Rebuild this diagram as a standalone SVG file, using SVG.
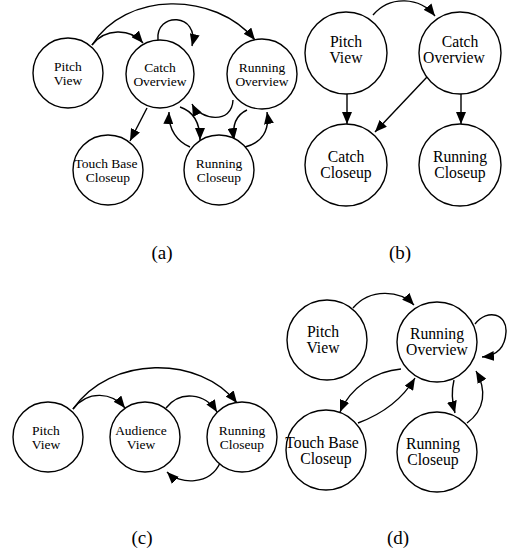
<svg xmlns="http://www.w3.org/2000/svg" width="507" height="552" viewBox="0 0 507 552">
<defs>
<marker id="ah" markerUnits="userSpaceOnUse" markerWidth="12" markerHeight="10" viewBox="0 0 12 10" refX="12" refY="5" orient="auto">
<path d="M0,0 L12,5 L0,10 z" fill="#000"/>
</marker>
</defs>
<style>
circle{fill:#fff;stroke:#000;stroke-width:1.4}
text{font-family:"Liberation Serif","Times New Roman",serif;fill:#000;text-anchor:middle}
.s{font-size:13.5px}
.b{font-size:15.7px}
.lab{font-size:19px}
#edges path{fill:none;stroke:#000;stroke-width:1.4;marker-end:url(#ah)}
</style>
<rect width="507" height="552" fill="#fff"/>
<g id="edges">
<!-- (a) -->
<path d="M92,45 C105,28 130,28 143,43"/>
<path d="M92,45 C125,-9 215,-9 255,40"/>
<path d="M158,40 C155,12 200,12 192,46"/>
<path d="M233,100 C232,125 200,120 192,104"/>
<path d="M180,107 C195,112 200,125 200,140"/>
<path d="M190,147 C178,142 168,130 169,112"/>
<path d="M147,108 L130,141"/>
<path d="M247,110 C236,115 232,125 234,140"/>
<path d="M245,147 C262,143 270,130 267,112"/>
<!-- (b) -->
<path d="M373,15 C390,-5 420,-3 435,16"/>
<path d="M347,94 L347,124"/>
<path d="M461,94 L461,124"/>
<path d="M427,77 L375,132"/>
<!-- (c) -->
<path d="M73,409 C88,390 112,392 125,408"/>
<path d="M73,409 C110,355 200,355 237,403"/>
<path d="M166,408 C180,390 205,393 217,412"/>
<path d="M220,463 C210,485 180,485 167,472"/>
<!-- (d) -->
<path d="M353,308 C370,288 400,290 414,305"/>
<path d="M475,324 C488,308 507,314 506,332 C505,350 494,356 482,357"/>
<path d="M401,369 C375,371 350,388 340,412"/>
<path d="M358,423 C385,413 403,398 415,378"/>
<path d="M454,380 C451,392 452,402 455,413"/>
<path d="M467,423 C485,410 487,390 476,371"/>
</g>
<!-- panel (a) -->
<g id="a_pitch"><circle cx="68" cy="73" r="35"/><text class="s" x="68" y="71">Pitch</text><text class="s" x="68" y="84.5">View</text></g>
<g id="a_catchov"><circle cx="160" cy="74" r="34"/><text class="s" x="160" y="72">Catch</text><text class="s" x="160" y="85.5">Overview</text></g>
<g id="a_runov"><circle cx="262" cy="74" r="35"/><text class="s" x="262" y="72">Running</text><text class="s" x="262" y="85.5">Overview</text></g>
<g id="a_touch"><circle cx="108" cy="170" r="35"/><text class="s" x="106" y="168">Touch Base</text><text class="s" x="108" y="181.5">Closeup</text></g>
<g id="a_runcl"><circle cx="219" cy="170" r="35"/><text class="s" x="219" y="168">Running</text><text class="s" x="219" y="181.5">Closeup</text></g>
<!-- panel (b) -->
<g id="b_pitch"><circle cx="346" cy="53" r="41"/><text class="b" x="346" y="47">Pitch</text><text class="b" x="346" y="63">View</text></g>
<g id="b_catchov"><circle cx="460" cy="53" r="41"/><text class="b" x="460" y="47">Catch</text><text class="b" x="454" y="63">Overview</text></g>
<g id="b_catchcl"><circle cx="346" cy="165" r="41"/><text class="b" x="346" y="162">Catch</text><text class="b" x="346" y="178">Closeup</text></g>
<g id="b_runcl"><circle cx="460" cy="165" r="41"/><text class="b" x="460" y="162">Running</text><text class="b" x="460" y="178">Closeup</text></g>
<!-- panel (c) -->
<g id="c_pitch"><circle cx="48" cy="437" r="35"/><text class="s" x="46" y="435">Pitch</text><text class="s" x="46" y="448.5">View</text></g>
<g id="c_aud"><circle cx="145" cy="437" r="35"/><text class="s" x="141" y="435">Audience</text><text class="s" x="141" y="448.5">View</text></g>
<g id="c_runcl"><circle cx="242" cy="437" r="35"/><text class="s" x="242" y="435">Running</text><text class="s" x="242" y="448.5">Closeup</text></g>
<!-- panel (d) -->
<g id="d_pitch"><circle cx="327" cy="340" r="40"/><text class="b" x="323" y="337">Pitch</text><text class="b" x="323" y="353">View</text></g>
<g id="d_runov"><circle cx="437" cy="342" r="40"/><text class="b" x="437" y="339">Running</text><text class="b" x="437" y="355">Overview</text></g>
<g id="d_touch"><circle cx="326" cy="450" r="40"/><text class="b" x="322" y="448">Touch Base</text><text class="b" x="326" y="464">Closeup</text></g>
<g id="d_runcl"><circle cx="437" cy="452" r="40"/><text class="b" x="433" y="449">Running</text><text class="b" x="433" y="465">Closeup</text></g>
<!-- labels -->
<text class="lab" x="162" y="259">(a)</text>
<text class="lab" x="400" y="259">(b)</text>
<text class="lab" x="142" y="544">(c)</text>
<text class="lab" x="398" y="544">(d)</text>
</svg>
